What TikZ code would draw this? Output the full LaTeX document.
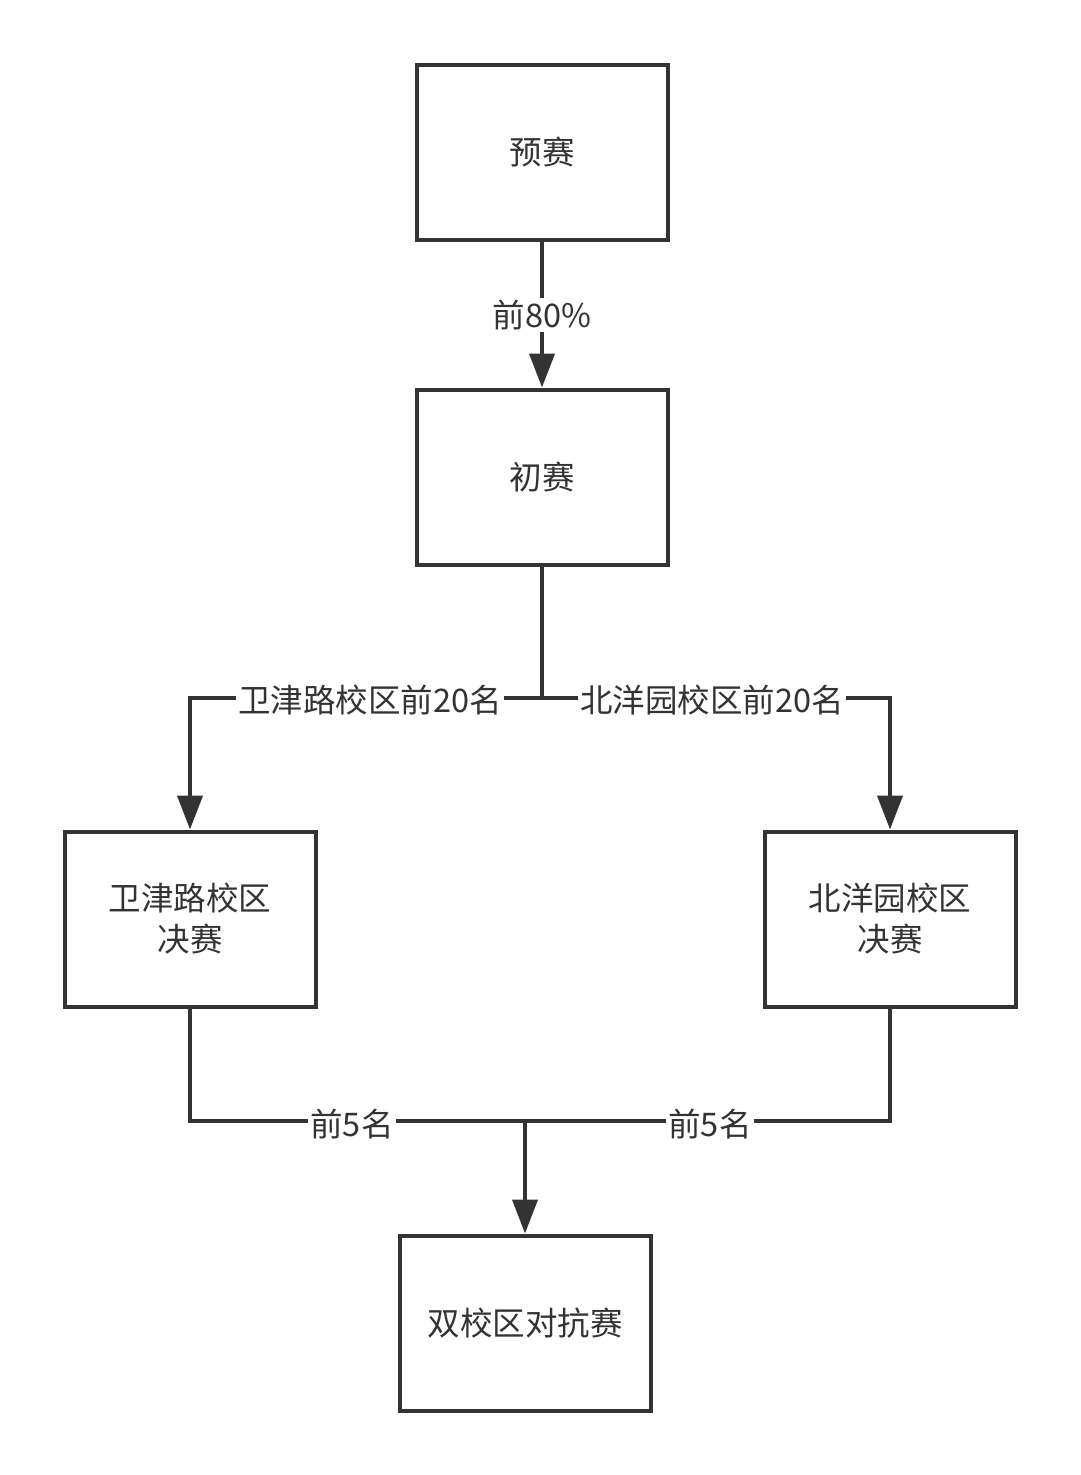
\documentclass[tikz,border=0pt]{standalone}
\usepackage{fontspec}
\setmainfont{Noto Sans CJK SC}
\usetikzlibrary{arrows.meta}
\definecolor{ink}{HTML}{333333}
\begin{document}
\begin{tikzpicture}[x=1pt,y=-1pt,
  box/.style={draw=ink, line width=4pt, minimum width=251pt, minimum height=175pt, inner sep=0pt, text=ink, font=\fontsize{32.5}{41}\selectfont, align=center},
  conn/.style={draw=ink, line width=4pt},
  arr/.style={conn, -{Triangle[length=34pt,width=25pt]}},
  lab/.style={fill=white, text=ink, font=\fontsize{32.5}{38}\selectfont, inner sep=2pt}]
\fill[white] (0,0) rectangle (1080,1475);
\useasboundingbox (0,0) rectangle (1080,1475);
\node[box] (yu) at (542,152) {预赛};
\node[box] (chu) at (542,477) {初赛};
\node[box] (wj) at (190,919) {卫津路校区\\决赛};
\node[box] (by) at (890,919) {北洋园校区\\决赛};
\node[box] (dual) at (525,1323) {双校区对抗赛};
\coordinate (split) at (542,698);
\coordinate (merge) at (525,1121);
\draw[arr] (yu) -- (chu);
\draw[arr] (chu.south) -- (split) -| (wj.north);
\draw[arr] (split) -| (by.north);
\draw[conn] (wj.south) |- (merge);
\draw[conn] (by.south) |- (merge);
\draw[arr] (merge) -- (dual.north);
\node[lab] (l1) at (542,315) {前80\%};
\node[lab] (l2) at (370,700) {卫津路校区前20名};
\node[lab] (l3) at (712,700) {北洋园校区前20名};
\node[lab] (l4) at (352,1124) {前5名};
\node[lab] (l5) at (710,1124) {前5名};
\end{tikzpicture}
\end{document}
